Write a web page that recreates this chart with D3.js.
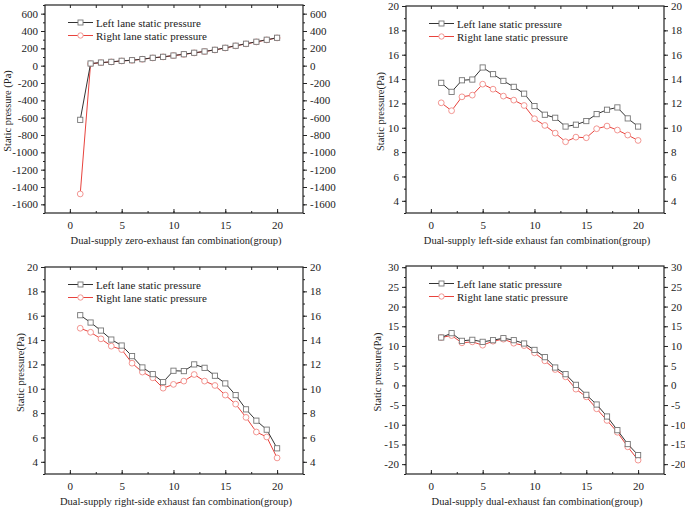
<!DOCTYPE html>
<html>
<head>
<meta charset="utf-8">
<script src="https://cdn.jsdelivr.net/npm/d3@7"></script>
<style>
  body { margin: 0; background: #fff; }
  text { font-family: "Liberation Serif", "Times New Roman", serif; fill: #222; }
</style>
</head>
<body>
<div id="chart"></div>
<script>
const groups = d3.range(1, 21);

// zero-exhaust
const zeroLeft = [-625, 25, 36, 44, 56, 63, 75, 91, 102, 117, 132, 149, 164, 183, 206, 230, 253, 276, 299, 322];
const zeroRight = [-1480, 22, 34, 43, 54, 62, 74, 89, 101, 116, 130, 147, 163, 181, 204, 228, 251, 274, 297, 320];

// left-side exhaust
const leftSideLeft = [13.69, 12.95, 13.9, 13.96, 14.95, 14.4, 13.85, 13.36, 12.8, 11.78, 11.07, 10.82, 10.1, 10.25, 10.55, 11.12, 11.48, 11.67, 10.77, 10.1];
const leftSideRight = [12.05, 11.4, 12.54, 12.68, 13.58, 13.17, 12.6, 12.27, 11.83, 10.74, 10.19, 9.56, 8.85, 9.23, 9.18, 9.92, 10.14, 9.81, 9.4, 8.96];

// right-side exhaust
const rightSideLeft = [16.04, 15.44, 14.78, 14.04, 13.55, 12.68, 11.75, 11.2, 10.55, 11.48, 11.45, 12.0, 11.72, 11.07, 10.44, 9.48, 8.31, 7.38, 6.64, 5.11];
const rightSideRight = [14.97, 14.64, 14.1, 13.5, 13.22, 12.1, 11.37, 10.9, 10.05, 10.36, 10.63, 11.17, 10.63, 10.27, 9.48, 8.74, 7.65, 6.45, 6.04, 4.32];

// dual-exhaust
const dualLeft = [12.15, 13.25, 11.3, 11.56, 11.05, 11.47, 11.98, 11.47, 10.63, 9.0, 7.16, 4.53, 2.84, 0.13, -2.4, -4.86, -7.9, -11.37, -14.9, -17.7];
const dualRight = [12.15, 12.65, 10.8, 11.05, 10.2, 11.22, 11.73, 10.7, 10.1, 8.26, 6.23, 4.03, 2.17, -0.96, -2.9, -5.95, -8.9, -11.9, -15.6, -18.98];

const xTicks = [0, 5, 10, 15, 20];
const legendNames = ['Left lane static pressure', 'Right lane static pressure'];

const panels = [
  { left: zeroLeft, right: zeroRight, box: [45, 5, 303, 213], y: [-1700, 700], yTicks: d3.range(-1600, 601, 200), yMinor: d3.range(-1700, 701, 100),
    xLabel: 'Dual-supply zero-exhaust fan combination(group)', yLabel: 'Static pressure (Pa)', yLabelX: 11 },
  { left: leftSideLeft, right: leftSideRight, box: [406, 6, 664, 213], y: [3, 20], yTicks: d3.range(4, 21, 2), yMinor: d3.range(3, 21, 1),
    xLabel: 'Dual-supply left-side exhaust fan combination(group)', yLabel: 'Static pressure(Pa)', yLabelX: 384 },
  { left: rightSideLeft, right: rightSideRight, box: [45, 267, 303, 474], y: [3, 20], yTicks: d3.range(4, 21, 2), yMinor: d3.range(3, 21, 1),
    xLabel: 'Dual-supply right-side exhaust fan combination(group)', yLabel: 'Static pressure(Pa)', yLabelX: 24 },
  { left: dualLeft, right: dualRight, box: [406, 266, 664, 474], y: [-22.5, 30.3], yTicks: d3.range(-20, 31, 5), yMinor: d3.range(-22.5, 31, 2.5),
    xLabel: 'Dual-supply dual-exhaust fan combination(group)', yLabel: 'Static pressure(Pa)', yLabelX: 381 }
];

const svg = d3.select('#chart').append('svg').attr('width', 685).attr('height', 509);

const blackLine = '#333';
const blackMark = '#777';
const redLine = '#e8433d';
const redMark = '#f08a86';
const fmt = d => String(d);

const drawPanel = (p) => {
  const [x0, y0, x1, y1] = p.box;
  const xScale = d3.scaleLinear().domain([-2.4, 22.5]).range([x0, x1]);
  const yScale = d3.scaleLinear().domain(p.y).range([y1, y0]);
  const g = svg.append('g');

  // x axes (inward ticks, top and bottom)
  const xMinor = d3.range(-2.5, 22.6, 2.5).filter(v => xScale(v) > x0 + 1 && xScale(v) < x1 - 1);
  g.append('g').attr('transform', 'translate(0,' + y1 + ')')
    .call(d3.axisBottom(xScale).tickValues(xTicks).tickFormat(fmt).tickSizeInner(-4).tickSizeOuter(0).tickPadding(8));
  g.append('g').attr('transform', 'translate(0,' + y1 + ')')
    .call(d3.axisBottom(xScale).tickValues(xMinor).tickSizeInner(-2).tickSizeOuter(0).tickFormat(''));
  g.append('g').attr('transform', 'translate(0,' + y0 + ')')
    .call(d3.axisTop(xScale).tickValues(xMinor).tickSizeInner(-3).tickSizeOuter(0).tickFormat(''));

  // y axes (outward ticks, left and right)
  const minor = p.yMinor.filter(v => v >= p.y[0] && v <= p.y[1]);
  g.append('g').attr('transform', 'translate(' + x0 + ',0)')
    .call(d3.axisLeft(yScale).tickValues(p.yTicks).tickFormat(fmt).tickSizeInner(4).tickSizeOuter(0).tickPadding(3));
  g.append('g').attr('transform', 'translate(' + x0 + ',0)')
    .call(d3.axisLeft(yScale).tickValues(minor).tickSizeInner(2).tickSizeOuter(0).tickFormat(''));
  g.append('g').attr('transform', 'translate(' + x1 + ',0)')
    .call(d3.axisRight(yScale).tickValues(p.yTicks).tickFormat(fmt).tickSizeInner(4).tickSizeOuter(0).tickPadding(3));
  g.append('g').attr('transform', 'translate(' + x1 + ',0)')
    .call(d3.axisRight(yScale).tickValues(minor).tickSizeInner(2).tickSizeOuter(0).tickFormat(''));

  g.selectAll('.tick text').style('font-size', '11px').style('font-family', '"Liberation Serif", serif').attr('fill', '#222');
  g.selectAll('.tick line').attr('stroke', '#222');
  g.selectAll('.domain').remove();

  g.append('rect').attr('x', x0).attr('y', y0).attr('width', x1 - x0).attr('height', y1 - y0)
    .attr('fill', 'none').attr('stroke', '#222').attr('stroke-width', 1.2);

  const line = d3.line().x((d, i) => xScale(groups[i])).y(d => yScale(d));

  const series = [
    { data: p.right, line: redLine, mark: redMark, shape: 'circle' },
    { data: p.left, line: blackLine, mark: blackMark, shape: 'square' }
  ];
  series.forEach(s => {
    g.append('path').datum(s.data).attr('d', line).attr('fill', 'none').attr('stroke', s.line).attr('stroke-width', 1);
    if (s.shape === 'square') {
      g.selectAll(null).data(s.data).enter().append('rect')
        .attr('x', (d, i) => xScale(groups[i]) - 2.6).attr('y', d => yScale(d) - 2.6)
        .attr('width', 5.2).attr('height', 5.2)
        .attr('fill', '#fff').attr('stroke', s.mark).attr('stroke-width', 0.9);
    } else {
      g.selectAll(null).data(s.data).enter().append('circle')
        .attr('cx', (d, i) => xScale(groups[i])).attr('cy', d => yScale(d)).attr('r', 2.9)
        .attr('fill', '#fff').attr('stroke', s.mark).attr('stroke-width', 0.9);
    }
  });

  // legend
  const lx = x0 + 23;
  const legend = [
    { name: legendNames[0], line: blackLine, mark: blackMark, shape: 'square', y: y0 + 17.5 },
    { name: legendNames[1], line: redLine, mark: redMark, shape: 'circle', y: y0 + 30.5 }
  ];
  legend.forEach(l => {
    g.append('line').attr('x1', lx).attr('x2', lx + 25).attr('y1', l.y).attr('y2', l.y).attr('stroke', l.line).attr('stroke-width', 1);
    if (l.shape === 'square') {
      g.append('rect').attr('x', lx + 10).attr('y', l.y - 2.5).attr('width', 5).attr('height', 5)
        .attr('fill', '#fff').attr('stroke', l.mark).attr('stroke-width', 0.9);
    } else {
      g.append('circle').attr('cx', lx + 12.5).attr('cy', l.y).attr('r', 2.7)
        .attr('fill', '#fff').attr('stroke', l.mark).attr('stroke-width', 0.9);
    }
    g.append('text').attr('x', lx + 28).attr('y', l.y + 4).attr('font-size', 11).text(l.name);
  });

  // axis labels
  g.append('text').attr('x', (x0 + x1) / 2 + 2).attr('y', y1 + 31).attr('text-anchor', 'middle')
    .attr('font-size', 10.5).text(p.xLabel);
  g.append('text').attr('transform', 'translate(' + p.yLabelX + ',' + ((y0 + y1) / 2 + 2) + ') rotate(-90)')
    .attr('text-anchor', 'middle').attr('font-size', 10.5).text(p.yLabel);
};

panels.forEach(drawPanel);
</script>
</body>
</html>
